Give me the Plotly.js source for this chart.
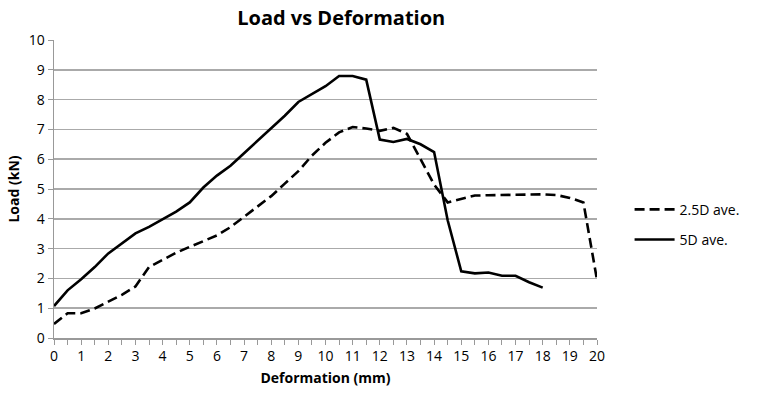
<!DOCTYPE html>
<html>
<head>
<meta charset="utf-8">
<script src="https://cdn.plot.ly/plotly-3.0.1.min.js"></script>
<style>html,body{margin:0;padding:0;background:#fff;}#chart{width:766px;height:396px;}</style>
</head>
<body>
<div id="chart"></div>
<script>
const deformation = [0,0.5,1,1.5,2,2.5,3,3.5,4,4.5,5,5.5,6,6.5,7,7.5,8,8.5,9,9.5,10,10.5,11,11.5,12,12.5,13,13.5,14,14.5,15,15.5,16,16.5,17,17.5,18,18.5,19,19.5,20];
const load25D = [0.47,0.83,0.83,0.99,1.22,1.45,1.73,2.38,2.62,2.86,3.06,3.24,3.44,3.72,4.07,4.4,4.76,5.18,5.6,6.12,6.55,6.9,7.08,7.03,6.95,7.05,6.85,6.0,5.15,4.55,4.66,4.78,4.79,4.8,4.8,4.8,4.82,4.8,4.7,4.55,1.95];
const load5D = [1.07,1.6,1.97,2.38,2.84,3.17,3.51,3.73,3.98,4.24,4.55,5.05,5.45,5.78,6.2,6.62,7.06,7.46,7.92,8.18,8.45,8.79,8.79,8.67,6.66,6.58,6.68,6.5,6.24,3.95,2.24,2.17,2.2,2.09,2.09,1.87,1.69];
const seriesNames = ["2.5D ave.", "5D ave."];
const xTicks = [0,1,2,3,4,5,6,7,8,9,10,11,12,13,14,15,16,17,18,19,20];
const yTicks = [0,1,2,3,4,5,6,7,8,9,10];

const font = "Open Sans, Noto Sans, DejaVu Sans, sans-serif";
const traces = [
  {x: deformation.slice(0, load25D.length), y: load25D, name: seriesNames[0], mode: "lines",
   line: {color: "#000", width: 2.6, dash: "10px,5px"}, legendgroup: "a"},
  {x: deformation.slice(0, load5D.length), y: load5D, name: seriesNames[1], mode: "lines",
   line: {color: "#000", width: 2.6}, legendgroup: "b"}
];
const layout = {
  width: 766, height: 396,
  margin: {l: 54, r: 169, t: 40, b: 58},
  paper_bgcolor: "#fff", plot_bgcolor: "#fff",
  font: {family: font, color: "#000", size: 14},
  title: {text: "<b>Load vs Deformation</b>", font: {size: 20, family: font}, x: 0.529, xref: "paper", xanchor: "center", y: 0.972, yref: "container"},
  showlegend: true,
  legend: {x: 1.06, y: 0.38, xanchor: "left", yanchor: "middle", font: {size: 14, family: font},
    traceorder: "grouped", tracegroupgap: 9, itemwidth: 40, bgcolor: "rgba(0,0,0,0)"},
  xaxis: {range: [0, 20], tickvals: xTicks, ticktext: xTicks.map(String), ticks: "outside", ticklen: 5, tickcolor: "#999",
    minor: {dtick: 0.5, ticks: "outside", ticklen: 5, tickcolor: "#999", showgrid: false},
    showgrid: false, zeroline: false, showline: true, linecolor: "#999", linewidth: 1.5,
    tickfont: {size: 14}, title: {text: "<b>Deformation (mm)</b>", font: {size: 14}, standoff: 9}},
  yaxis: {range: [0, 10], tickvals: yTicks, ticktext: yTicks.map(String), ticks: "outside", ticklen: 5, tickcolor: "#999",
    showgrid: true, gridcolor: "#aaa", gridwidth: 1.5, zeroline: false, showline: true, linecolor: "#999", linewidth: 1.5,
    tickfont: {size: 14}, title: {text: "<b>Load (kN)</b>", font: {size: 14}, standoff: 6}}
};
Plotly.newPlot("chart", traces, layout, {staticPlot: true, displayModeBar: false});
</script>
</body>
</html>
